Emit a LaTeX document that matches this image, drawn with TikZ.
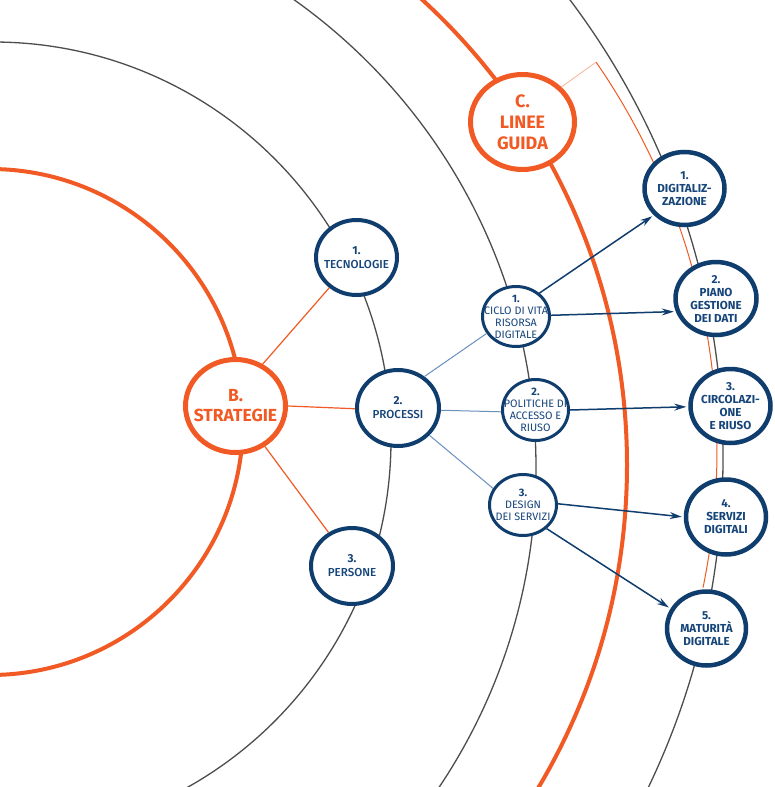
\documentclass[tikz,border=0pt]{standalone}
\usepackage{fontspec}
\setmainfont{Fira Sans}
\newfontfamily\fmed{Fira Sans Medium}
\usetikzlibrary{shapes.geometric,arrows.meta}
\definecolor{navy}{HTML}{0F3D6E}
\definecolor{navytxt}{HTML}{16457A}
\definecolor{lblue}{HTML}{6A90BE}
\definecolor{org}{HTML}{F15A24}
\definecolor{lorg}{HTML}{F7B394}
\definecolor{ringc}{HTML}{4D4D4D}
\begin{document}
\begin{tikzpicture}[x=1pt,y=-1pt,
  ringg/.style={draw=ringc, line width=1.3pt},
  ringo/.style={draw=org, line width=4pt},
  bnode/.style={ellipse, draw=navy, fill=white, line width=4pt, inner sep=0pt},
  snode/.style={ellipse, draw=navy, fill=white, line width=3pt, inner sep=0pt},
  onode/.style={ellipse, draw=org, fill=white, line width=5pt, inner sep=0pt},
  tB/.style={align=center, text=org, font=\bfseries\fontsize{17.5}{20}\selectfont},
  tC/.style={align=center, text=org, font=\bfseries\fontsize{18}{21}\selectfont},
  tmed/.style={align=center, text=navytxt, font=\fmed\fontsize{11.6}{14}\selectfont},
  treg/.style={align=center, text=navytxt, font=\fontsize{10.8}{12}\selectfont},
  tbold/.style={align=center, text=navytxt, font=\bfseries\fontsize{11.6}{13}\selectfont},
  olink/.style={draw=org, line width=1.2pt},
  blink/.style={draw=lblue, line width=1pt},
  arr/.style={draw=navy, line width=1.5pt, -{Stealth[length=12pt,width=7pt,inset=4pt]}, shorten >=2pt}
]
\useasboundingbox (0,0) rectangle (774,787);
\clip (0,0) rectangle (774,787);
\fill[white] (0,0) rectangle (774,787);

% rings
\draw[ringo] (-10,422) circle[radius=253];
\draw[ringg] (-7,440) circle[radius=398];
\draw[ringg] (-38,468) circle[radius=574];
\draw[ringo] (-4,465) circle[radius=631];
\draw[ringg] (-39,458) circle[radius=762];
\coordinate (kink) at (596.1,62.1);
\draw[draw=org, line width=1pt] (kink) arc[start angle=-34.6, end angle=11.6, radius=683.5];

% nodes
\node[onode, minimum width=100pt, minimum height=93pt, label={[tB]center:{B.\\STRATEGIE}}] (b) at (235.5,406) {};
\node[onode, minimum width=104pt, minimum height=95pt, label={[tC]center:{C.\\LINEE\\GUIDA}}] (c) at (522.5,122) {};

\node[bnode, minimum width=81pt, minimum height=75pt, label={[tmed]center:{{\normalfont\bfseries 1.}\\TECNOLOGIE}}] (tec) at (356.5,257.5) {};
\node[bnode, minimum width=82pt, minimum height=76pt, label={[tmed]center:{{\normalfont\bfseries 2.}\\PROCESSI}}] (proc) at (398,408) {};
\node[bnode, minimum width=82pt, minimum height=76pt, label={[tmed]center:{{\normalfont\bfseries 3.}\\PERSONE}}] (pers) at (352,566) {};

\node[snode, minimum width=67pt, minimum height=60pt, label={[treg]center:{\textbf{1.}\\CICLO DI VITA\\RISORSA\\DIGITALE}}] (ciclo) at (516,316.5) {};
\node[snode, minimum width=66pt, minimum height=61pt, label={[treg]center:{\textbf{2.}\\POLITICHE DI\\ACCESSO E\\RIUSO}}] (pol) at (535.5,410) {};
\node[snode, minimum width=67pt, minimum height=61pt, label={[treg]center:{\textbf{3.}\\DESIGN\\DEI SERVIZI}}] (des) at (523,505) {};

\node[bnode, line width=4.5pt, minimum width=80pt, minimum height=73pt, label={[tbold]center:{1.\\DIGITALIZ-\\ZAZIONE}}] (digit) at (684.5,188.5) {};
\node[bnode, line width=4.5pt, minimum width=81pt, minimum height=73pt, label={[tbold]center:{2.\\PIANO\\GESTIONE\\DEI DATI}}] (piano) at (716,298.5) {};
\node[bnode, line width=4.5pt, minimum width=80pt, minimum height=74pt, label={[tbold]center:{3.\\CIRCOLAZI-\\ONE\\E RIUSO}}] (circ) at (730.5,406) {};
\node[bnode, line width=4.5pt, minimum width=80pt, minimum height=75pt, label={[tbold]center:{4.\\SERVIZI\\DIGITALI}}] (serv) at (726,517) {};
\node[bnode, line width=4.5pt, minimum width=79pt, minimum height=74pt, label={[tbold]center:{5.\\MATURITÀ\\DIGITALE}}] (mat) at (706.5,628.5) {};

% links
\draw[draw=lorg, line width=0.8pt] (c.42) -- (kink);
\draw[olink] (b.57) -- (tec.228);
\draw[olink] (b.0) -- (proc.181);
\draw[olink] (b.-54) -- (pers.125);
\draw[blink] (proc.50) -- (ciclo.210);
\draw[blink] (proc.-3) -- (pol.183);
\draw[blink] (proc.-41) -- (des.151);
\draw[arr] (ciclo.45) -- (digit.221);
\draw[arr] (ciclo.2) -- (piano.198);
\draw[arr] (pol.0) -- (circ.181);
\draw[arr] (des.2) -- (serv.180);
\draw[arr] (des.-45) -- (mat.151);
\end{tikzpicture}
\end{document}
